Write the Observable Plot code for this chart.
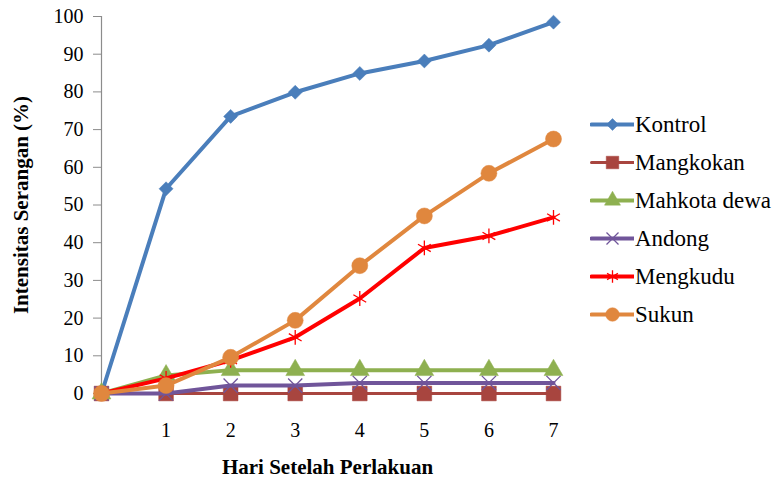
<!DOCTYPE html>
<html>
<head>
<meta charset="utf-8">
<script src="https://cdn.jsdelivr.net/npm/d3@7"></script>
<script src="https://cdn.jsdelivr.net/npm/@observablehq/plot@0.6"></script>
<style>
  html, body { margin: 0; padding: 0; background: #fff; }
  #wrap { position: relative; width: 774px; height: 480px; font-family: "Liberation Serif", "Times New Roman", serif; }
  #wrap svg.plot text { font-family: "Liberation Serif", "Times New Roman", serif; }
  #wrap [aria-label="x-axis label"] text, #wrap [aria-label="y-axis label"] text { font-weight: bold; font-size: 21px; }
  #legend { position: absolute; left: 590px; top: 105px; }
  .row { display: flex; align-items: center; height: 38px; }
  .row span { font-size: 23px; color: #000; margin-left: 1px; line-height: 1; }
</style>
</head>
<body>
<div id="wrap"><div id="legend"></div></div>
<script>
const days = [0, 1, 2, 3, 4, 5, 6, 7];
const tickDays = [1, 2, 3, 4, 5, 6, 7];
const yTicks = [0, 10, 20, 30, 40, 50, 60, 70, 80, 90, 100];

const seriesNames = ["Kontrol", "Mangkokan", "Mahkota dewa", "Andong", "Mengkudu", "Sukun"];
const kontrol     = [0, 54.3, 73.5, 79.9, 84.9, 88.2, 92.4, 98.5];
const mangkokan   = [0, 0, 0, 0, 0, 0, 0, 0];
const mahkotaDewa = [0, 4.8, 6.2, 6.2, 6.2, 6.2, 6.2, 6.2];
const andong      = [0, 0, 2.1, 2.1, 2.8, 2.8, 2.8, 2.8];
const mengkudu    = [0, 4.0, 8.8, 14.9, 25.2, 38.6, 41.8, 46.7];
const sukun       = [0, 2.1, 9.6, 19.4, 33.9, 47.1, 58.4, 67.5];

const colors  = ["#4A7EBB", "#A8453F", "#8EB050", "#70559A", "#FF0000", "#E0873E"];
const symbols = ["diamond2", "square", "triangle", "times", "asterisk", "circle"];
const filled  = [true, true, true, false, false, true];
const radii   = [6.3, 8.3, 7, 6.5, 7, 8];
const widths  = [4, 3, 4, 4, 4, 4];

const allValues = [kontrol, mangkokan, mahkotaDewa, andong, mengkudu, sukun];
const data = seriesNames.map((name, i) => days.map((d, j) => ({series: name, day: d, value: allValues[i][j]})));

const marks = [
  Plot.ruleY([0], {stroke: "#8c8c8c", strokeWidth: 1}),
  Plot.ruleX([0], {stroke: "#8c8c8c", strokeWidth: 1.2})
];
data.forEach((rows, i) => {
  marks.push(Plot.line(rows, {x: "day", y: "value", stroke: colors[i], strokeWidth: widths[i]}));
  marks.push(Plot.dot(rows, {
    x: "day", y: "value", symbol: () => symbols[i], r: radii[i],
    fill: filled[i] ? colors[i] : "none",
    stroke: colors[i], strokeWidth: filled[i] ? 0.5 : 1.3
  }));
});

const chart = Plot.plot({
  width: 774,
  height: 480,
  marginLeft: 101,
  marginRight: 221,
  marginTop: 16,
  marginBottom: 87,
  style: {fontFamily: "Liberation Serif, Times New Roman, serif", fontSize: "20px", color: "#000", background: "#fff"},
  x: {domain: [0, 7], ticks: tickDays, tickSize: 0, tickPadding: 29, label: "Hari Setelah Perlakuan", labelAnchor: "center", labelOffset: 80, labelArrow: "none", tickFormat: d => String(d)},
  y: {domain: [0, 100], ticks: yTicks, tickSize: 8, tickPadding: 10, label: "Intensitas Serangan (%)", labelAnchor: "center", labelOffset: 88, labelArrow: "none"},
  marks
});
chart.classList.add("plot");
chart.querySelectorAll('[aria-label="y-axis tick"] path').forEach(p => p.setAttribute("stroke", "#8c8c8c"));
document.getElementById("wrap").prepend(chart);

// legend
const legend = document.getElementById("legend");
seriesNames.forEach((name, i) => {
  const row = document.createElement("div");
  row.className = "row";
  const sw = Plot.plot({
    width: 44, height: 20, margin: 0,
    x: {domain: [0, 1], range: [1, 43], axis: null},
    y: {domain: [0, 1], range: [10, 10], axis: null},
    marks: [
      Plot.line([{x: 0, y: 0}, {x: 1, y: 0}], {x: "x", y: "y", stroke: colors[i], strokeWidth: widths[i]}),
      Plot.dot([{x: 0.5, y: 0}], {x: "x", y: "y", symbol: () => symbols[i], r: radii[i] * 0.85,
        fill: filled[i] ? colors[i] : "none", stroke: colors[i], strokeWidth: filled[i] ? 0.5 : 1.3})
    ]
  });
  row.appendChild(sw);
  const t = document.createElement("span");
  t.textContent = name;
  row.appendChild(t);
  legend.appendChild(row);
});
</script>
</body>
</html>
